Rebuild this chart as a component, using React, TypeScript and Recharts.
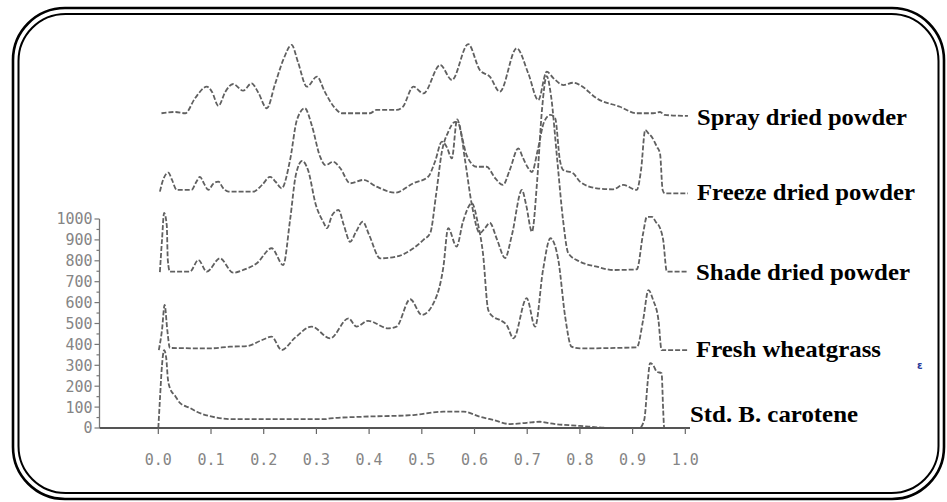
import React from 'react';
import { LineChart, Line, XAxis, YAxis, ReferenceLine } from 'recharts';

type P = { x: number; y: number };
const toPts = (a: number[][]): P[] => a.map(([x, y]) => ({ x, y }));

const seriesNames = [
  'Spray dried powder',
  'Freeze dried powder',
  'Shade dried powder',
  'Fresh wheatgrass',
  'Std. B. carotene',
];

const sprayDried = toPts([
  [0.006, 1506], [0.032, 1512], [0.051, 1506], [0.07, 1579], [0.092, 1633], [0.102, 1608], [0.114, 1541],
  [0.127, 1608], [0.142, 1646], [0.161, 1614], [0.177, 1649], [0.189, 1608], [0.206, 1530], [0.221, 1641],
  [0.237, 1761], [0.253, 1833], [0.265, 1751], [0.282, 1633], [0.301, 1681], [0.316, 1608], [0.335, 1531],
  [0.348, 1506], [0.402, 1506], [0.414, 1522], [0.452, 1522], [0.464, 1537], [0.484, 1633], [0.503, 1601],
  [0.535, 1737], [0.557, 1665], [0.588, 1837], [0.61, 1713], [0.629, 1681], [0.648, 1609], [0.68, 1817],
  [0.702, 1697], [0.721, 1569], [0.737, 1705], [0.75, 1673], [0.769, 1641], [0.787, 1652], [0.8, 1641],
  [0.832, 1577], [0.876, 1537], [0.908, 1506], [0.939, 1506], [0.952, 1512], [0.961, 1498], [1.005, 1493],
]);

const freezeDried = toPts([
  [0.003, 1131], [0.009, 1187], [0.019, 1222], [0.026, 1187], [0.035, 1139], [0.063, 1139], [0.072, 1177],
  [0.079, 1202], [0.087, 1168], [0.095, 1139], [0.104, 1168], [0.114, 1179], [0.123, 1148], [0.133, 1131],
  [0.18, 1131], [0.197, 1163], [0.212, 1202], [0.223, 1177], [0.234, 1147], [0.25, 1282], [0.263, 1474],
  [0.278, 1530], [0.291, 1450], [0.307, 1298], [0.317, 1258], [0.332, 1274], [0.345, 1244], [0.364, 1171],
  [0.389, 1187], [0.414, 1155], [0.449, 1126], [0.484, 1171], [0.512, 1202], [0.525, 1274], [0.538, 1370],
  [0.547, 1346], [0.557, 1290], [0.567, 1477], [0.576, 1394], [0.585, 1306], [0.604, 1250], [0.623, 1250],
  [0.639, 1196], [0.654, 1163], [0.667, 1235], [0.683, 1338], [0.692, 1292], [0.702, 1243], [0.709, 1225],
  [0.72, 1330], [0.732, 1464], [0.744, 1498], [0.753, 1483], [0.762, 1282], [0.768, 1235], [0.787, 1219],
  [0.8, 1179], [0.832, 1147], [0.863, 1142], [0.882, 1163], [0.908, 1139], [0.916, 1235], [0.924, 1426],
  [0.93, 1410], [0.936, 1394], [0.946, 1346], [0.952, 1314], [0.957, 1139], [0.961, 1123], [1.005, 1123],
]);

const shadeDried = toPts([
  [0.003, 746], [0.007, 900], [0.011, 1029], [0.016, 971], [0.018, 804], [0.022, 748], [0.06, 748],
  [0.076, 804], [0.092, 748], [0.117, 812], [0.142, 743], [0.161, 756], [0.187, 788], [0.215, 860],
  [0.237, 780], [0.25, 995], [0.261, 1211], [0.273, 1278], [0.284, 1235], [0.299, 1067], [0.313, 986],
  [0.32, 956], [0.33, 1019], [0.342, 1043], [0.352, 971], [0.364, 891], [0.375, 938], [0.388, 987],
  [0.4, 924], [0.421, 812], [0.452, 820], [0.484, 860], [0.503, 900], [0.516, 933], [0.527, 1115],
  [0.538, 1321], [0.55, 1416], [0.563, 1464], [0.571, 1450], [0.582, 1282], [0.595, 1067], [0.61, 933],
  [0.62, 957], [0.629, 981], [0.643, 900], [0.658, 813], [0.671, 924], [0.69, 1139], [0.698, 1067],
  [0.709, 939], [0.719, 1187], [0.728, 1522], [0.737, 1684], [0.745, 1593], [0.757, 1282], [0.768, 995],
  [0.778, 836], [0.8, 796], [0.832, 772], [0.863, 756], [0.908, 759], [0.92, 932], [0.927, 1010],
  [0.937, 1010], [0.944, 986], [0.952, 957], [0.958, 900], [0.965, 748], [1.005, 748],
]);

const freshWheatgrass = toPts([
  [0.001, 373], [0.007, 469], [0.012, 589], [0.017, 469], [0.022, 383], [0.098, 381], [0.136, 389],
  [0.168, 392], [0.197, 421], [0.215, 437], [0.234, 373], [0.259, 431], [0.291, 485], [0.326, 429],
  [0.361, 525], [0.376, 485], [0.398, 513], [0.436, 477], [0.452, 485], [0.478, 616], [0.5, 541],
  [0.525, 612], [0.541, 772], [0.55, 956], [0.566, 868], [0.578, 986], [0.595, 1075], [0.607, 971],
  [0.616, 837], [0.626, 565], [0.635, 533], [0.648, 517], [0.661, 493], [0.674, 429], [0.699, 621],
  [0.715, 485], [0.73, 756], [0.744, 908], [0.759, 804], [0.772, 533], [0.784, 389], [0.8, 381],
  [0.908, 386], [0.92, 517], [0.93, 660], [0.939, 612], [0.949, 517], [0.955, 373], [1.005, 373],
]);

const stdCarotene = toPts([
  [0, 0], [0.003, 134], [0.007, 301], [0.011, 373], [0.015, 335], [0.018, 239], [0.022, 191],
  [0.032, 153], [0.041, 120], [0.06, 96], [0.073, 78], [0.108, 51], [0.142, 42], [0.316, 42],
  [0.326, 46], [0.389, 54], [0.484, 62], [0.541, 78], [0.579, 78], [0.61, 54], [0.636, 38],
  [0.667, 19], [0.699, 25], [0.724, 30], [0.743, 22], [0.8, 10], [0.863, 0], [0.913, 0],
  [0.922, 38], [0.929, 230], [0.933, 310], [0.939, 301], [0.946, 269], [0.955, 262], [0.958, 86],
  [0.96, 0], [1.005, 0],
]);

const allSeries = [sprayDried, freezeDried, shadeDried, freshWheatgrass, stdCarotene];

const xTicks = [0, 0.1, 0.2, 0.3, 0.4, 0.5, 0.6, 0.7, 0.8, 0.9, 1.0];
const xTickLabels = ['0.0', '0.1', '0.2', '0.3', '0.4', '0.5', '0.6', '0.7', '0.8', '0.9', '1.0'];
const yTicks = [0, 50, 100, 150, 200, 250, 300, 350, 400, 450, 500, 550, 600, 650, 700, 750, 800, 850, 900, 950, 1000];
const xDomain = [-0.1116, 1.0089];
const yDomain = [0, 2000];
const yAxisTop = 1000;

const labelLayout = [
  { x: 697, y: 125, w: 210 },
  { x: 697, y: 200, w: 218 },
  { x: 696, y: 280, w: 214 },
  { x: 696, y: 357, w: 185 },
  { x: 690, y: 422, w: 168 },
];

const mono = '"DejaVu Sans Mono", "Liberation Mono", monospace';

const YTick = (props: any) => {
  const { x, y, payload } = props;
  const v = payload.value as number;
  const major = v % 100 === 0;
  return (
    <g>
      <line x1={x + (major ? 2 : 4)} x2={x + 7} y1={y} y2={y} stroke="#777" strokeWidth={1.2} />
      {major && (
        <text x={x} y={y} dy="0.36em" textAnchor="end" fontFamily={mono} fontSize={15} fill="#858585">
          {v}
        </text>
      )}
    </g>
  );
};

export default function App() {
  return (
    <div style={{ position: 'absolute', left: 0, top: 0, width: 947, height: 502, background: '#fff' }}>
      <LineChart
        width={947}
        height={502}
        margin={{ top: 10, right: 257, bottom: 24, left: 39.5 }}
      >
        <XAxis
          type="number"
          dataKey="x"
          domain={xDomain}
          ticks={xTicks}
          allowDataOverflow
          tickFormatter={(v: number) => xTickLabels[xTicks.findIndex((t) => Math.abs(t - v) < 1e-6)] ?? ''}
          axisLine={{ stroke: '#555', strokeWidth: 2 }}
          tickLine={{ stroke: '#666', strokeWidth: 1.2 }}
          tickSize={6}
          tickMargin={20}
          height={50}
          tick={{ fill: '#858585', fontSize: 15, fontFamily: mono }}
        />
        <YAxis
          type="number"
          domain={yDomain}
          ticks={yTicks}
          allowDataOverflow
          width={60}
          axisLine={false}
          tickLine={false}
          tickSize={5}
          tickMargin={2}
          interval={0}
          tick={<YTick />}
        />
        <ReferenceLine
          segment={[{ x: xDomain[0], y: 0 }, { x: xDomain[0], y: yAxisTop }]}
          stroke="#777"
          strokeWidth={1.3}
          ifOverflow="visible"
        />
        {allSeries.map((d, i) => (
          <Line
            key={seriesNames[i]}
            name={seriesNames[i]}
            data={d}
            dataKey="y"
            type="monotone"
            stroke="#606060"
            strokeWidth={1.8}
            strokeDasharray="5 2"
            dot={false}
            activeDot={false}
            isAnimationActive={false}
          />
        ))}
      </LineChart>
      <svg
        width={947}
        height={502}
        style={{ position: 'absolute', left: 0, top: 0, pointerEvents: 'none' }}
      >
        <rect x={13} y={8} width={931} height={491} rx={52} ry={52} fill="none" stroke="#000" strokeWidth={2.6} />
        <rect x={18.5} y={14} width={920} height={479} rx={47} ry={47} fill="none" stroke="#000" strokeWidth={2} />
        {seriesNames.map((n, i) => (
          <text
            key={n}
            x={labelLayout[i].x}
            y={labelLayout[i].y}
            textLength={labelLayout[i].w}
            lengthAdjust="spacingAndGlyphs"
            fontFamily='"Liberation Serif", "Times New Roman", serif'
            fontWeight="bold"
            fontSize={23}
            fill="#000"
          >
            {n}
          </text>
        ))}
        <text x={917} y={369} fontFamily='"DejaVu Sans", sans-serif' fontSize={10} fontWeight="bold" fill="#2a3a9a">
          ɛ
        </text>
      </svg>
    </div>
  );
}
